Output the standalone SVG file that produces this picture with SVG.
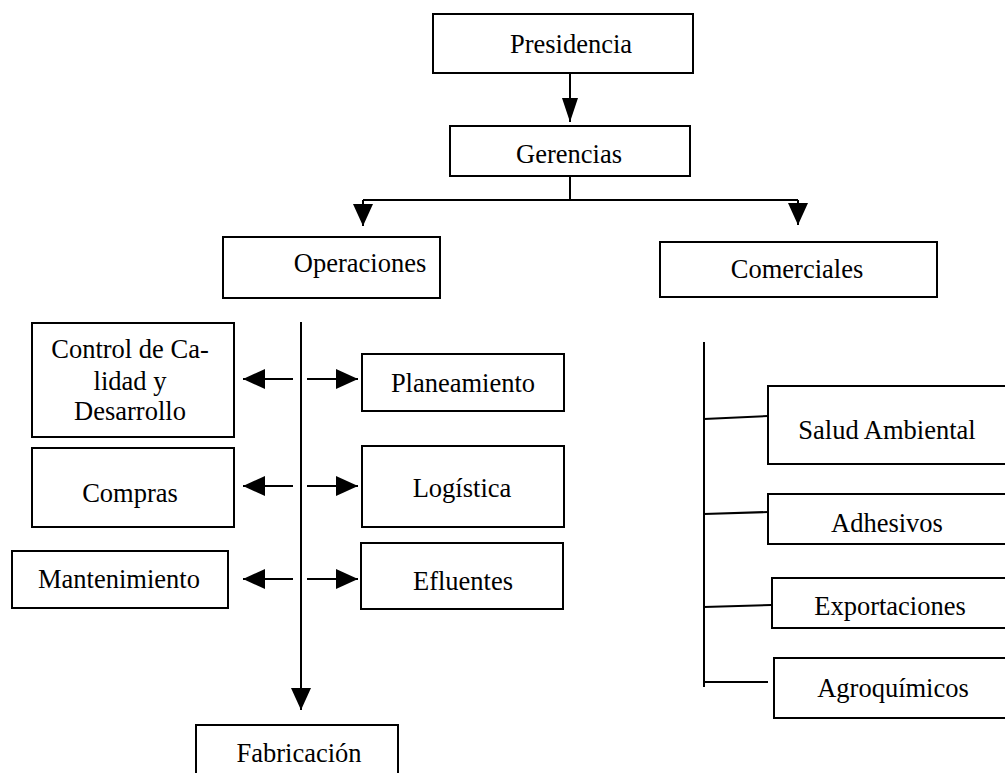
<svg xmlns="http://www.w3.org/2000/svg" width="1005" height="773" viewBox="0 0 1005 773">
  <style>
    .box { fill: #fff; stroke: #000; stroke-width: 2; }
    .lbl { font-family: "Liberation Serif", "Times New Roman", serif; font-size: 26.5px; fill: #000; text-anchor: middle; }
    .ln { fill: none; stroke: #000; stroke-width: 2; }
  </style>
  <defs>
    <marker id="ah" viewBox="0 0 22 20" markerWidth="22" markerHeight="20" refX="22" refY="10" orient="auto" markerUnits="userSpaceOnUse">
      <path d="M0,0 L22,10 L0,20 z" fill="#000"/>
    </marker>
    <marker id="ahN" viewBox="0 0 24 16" markerWidth="24" markerHeight="16" refX="24" refY="8" orient="auto" markerUnits="userSpaceOnUse">
      <path d="M0,0 L24,8 L0,16 z" fill="#000"/>
    </marker>
  </defs>
  <rect width="1005" height="773" fill="#fff"/>

  <g id="connectors">
    <line class="ln" x1="570" y1="73" x2="570" y2="122" marker-end="url(#ahN)"/>
    <path class="ln" d="M570,176 V200 M363,200 H798"/>
    <line class="ln" x1="363" y1="200" x2="363" y2="226" marker-end="url(#ah)"/>
    <line class="ln" x1="798" y1="200" x2="798" y2="225" marker-end="url(#ah)"/>
    <line class="ln" x1="301" y1="322" x2="301" y2="710" marker-end="url(#ah)"/>
    <line class="ln" x1="293" y1="379" x2="243" y2="379" marker-end="url(#ah)"/>
    <line class="ln" x1="293" y1="486" x2="243" y2="486" marker-end="url(#ah)"/>
    <line class="ln" x1="293" y1="579" x2="243" y2="579" marker-end="url(#ah)"/>
    <line class="ln" x1="307" y1="379" x2="358" y2="379" marker-end="url(#ah)"/>
    <line class="ln" x1="307" y1="486" x2="358" y2="486" marker-end="url(#ah)"/>
    <line class="ln" x1="307" y1="579" x2="358" y2="579" marker-end="url(#ah)"/>
    <line class="ln" x1="704" y1="342" x2="704" y2="687"/>
    <line class="ln" x1="704" y1="419" x2="768" y2="416"/>
    <line class="ln" x1="704" y1="514" x2="768" y2="512"/>
    <line class="ln" x1="704" y1="607" x2="771" y2="605"/>
    <line class="ln" x1="704" y1="682" x2="768" y2="682"/>
  </g>

  <g id="presidencia">
    <rect class="box" x="433" y="14" width="260" height="59"/>
    <text class="lbl" x="571" y="53">Presidencia</text>
  </g>
  <g id="gerencias">
    <rect class="box" x="450" y="126" width="240" height="50"/>
    <text class="lbl" x="569" y="163">Gerencias</text>
  </g>
  <g id="operaciones">
    <rect class="box" x="223" y="237" width="217" height="61"/>
    <text class="lbl" x="360" y="272">Operaciones</text>
  </g>
  <g id="comerciales">
    <rect class="box" x="660" y="242" width="277" height="55"/>
    <text class="lbl" x="797" y="278">Comerciales</text>
  </g>
  <g id="control-calidad">
    <rect class="box" x="32" y="323" width="202" height="114"/>
    <text class="lbl" x="130" y="358">Control de Ca-</text>
    <text class="lbl" x="130" y="390">lidad y</text>
    <text class="lbl" x="130" y="420">Desarrollo</text>
  </g>
  <g id="compras">
    <rect class="box" x="32" y="448" width="202" height="79"/>
    <text class="lbl" x="130" y="502">Compras</text>
  </g>
  <g id="mantenimiento">
    <rect class="box" x="12" y="551" width="216" height="57"/>
    <text class="lbl" x="119" y="588">Mantenimiento</text>
  </g>
  <g id="planeamiento">
    <rect class="box" x="362" y="354" width="202" height="57"/>
    <text class="lbl" x="463" y="392">Planeamiento</text>
  </g>
  <g id="logistica">
    <rect class="box" x="362" y="446" width="202" height="81"/>
    <text class="lbl" x="462" y="497">Logística</text>
  </g>
  <g id="efluentes">
    <rect class="box" x="361" y="543" width="202" height="66"/>
    <text class="lbl" x="463" y="590">Efluentes</text>
  </g>
  <g id="fabricacion">
    <rect class="box" x="196" y="725" width="202" height="60"/>
    <text class="lbl" x="299" y="762">Fabricación</text>
  </g>
  <g id="salud-ambiental">
    <rect class="box" x="768" y="386" width="245" height="78"/>
    <text class="lbl" x="887" y="439">Salud Ambiental</text>
  </g>
  <g id="adhesivos">
    <rect class="box" x="768" y="494" width="245" height="50"/>
    <text class="lbl" x="887" y="532">Adhesivos</text>
  </g>
  <g id="exportaciones">
    <rect class="box" x="772" y="578" width="241" height="50"/>
    <text class="lbl" x="890" y="615">Exportaciones</text>
  </g>
  <g id="agroquimicos">
    <rect class="box" x="774" y="658" width="239" height="60"/>
    <text class="lbl" x="893" y="697">Agroquímicos</text>
  </g>
</svg>
